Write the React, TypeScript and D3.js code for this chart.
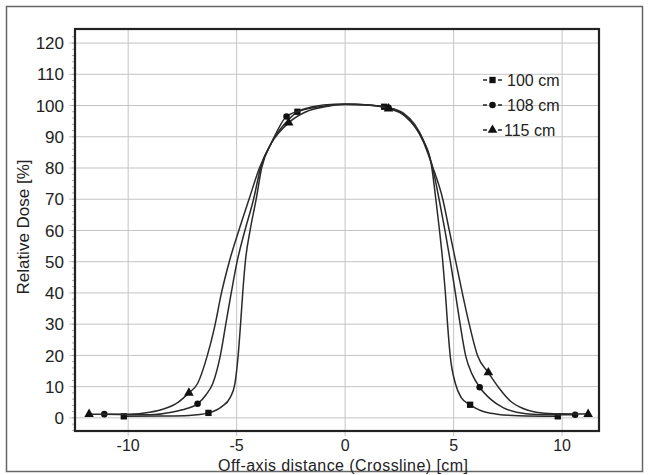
import React, { useEffect, useRef } from "react";
import * as d3 from "d3";

// axis ticks
const xTicks = [-10, -5, 0, 5, 10];
const yTicks = [0, 10, 20, 30, 40, 50, 60, 70, 80, 90, 100, 110, 120];

const legendLabels = ["100 cm", "108 cm", "115 cm"];

// profiles: [off-axis cm, relative dose %]
const dose100: [number, number][] = [
  [-10.2, 0.5], [-8.5, 0.6], [-7.2, 0.8], [-6.3, 1.6], [-5.7, 3.5], [-5.3, 6.5],
  [-5.08, 11], [-4.93, 20], [-4.82, 30], [-4.72, 40], [-4.6, 50], [-4.38, 60],
  [-4.1, 70], [-3.85, 80], [-3.4, 88], [-2.8, 94], [-2.2, 98], [-1.5, 99.6],
  [-0.5, 100.4], [0.5, 100.4], [1.8, 99.6], [2.5, 98], [3.0, 95], [3.5, 90],
  [3.95, 82], [4.18, 70], [4.35, 60], [4.5, 50], [4.62, 40], [4.72, 30],
  [4.84, 20], [5.08, 11], [5.35, 6.5], [5.76, 4.2], [6.3, 2.2], [7.0, 1.2],
  [8.0, 0.7], [9.8, 0.5],
];
const dose108: [number, number][] = [
  [-11.1, 1.2], [-9.0, 1.0], [-8.0, 1.8], [-7.3, 3], [-6.8, 4.5], [-6.4, 7.5],
  [-6.1, 11], [-5.75, 20], [-5.5, 30], [-5.25, 40], [-4.98, 50], [-4.62, 60],
  [-4.22, 70], [-3.9, 80], [-3.4, 88], [-2.7, 96.5], [-2.0, 98.5], [-1.2, 99.6],
  [0, 100.5], [1.0, 100.2], [2.0, 99.3], [2.7, 97.5], [3.2, 94], [3.6, 89],
  [4.0, 81], [4.33, 70], [4.6, 60], [4.85, 50], [5.08, 40], [5.3, 30],
  [5.55, 20], [5.85, 14], [6.2, 9.8], [6.7, 6], [7.3, 3.2], [7.9, 1.8],
  [8.8, 1.1], [10.6, 1.0],
];
const dose115: [number, number][] = [
  [-11.8, 1.2], [-10.0, 1.2], [-9.0, 1.8], [-8.3, 3], [-7.7, 5], [-7.2, 8],
  [-6.8, 11], [-6.35, 20], [-6.02, 29], [-5.7, 40], [-5.34, 50], [-4.9, 60],
  [-4.43, 70], [-3.95, 80], [-3.4, 88], [-2.6, 94.5], [-1.8, 98], [-1.0, 99.5],
  [0, 100.3], [1.0, 100.2], [2.0, 99.0], [2.7, 97], [3.2, 93.5], [3.6, 88.5],
  [4.0, 81], [4.5, 70], [4.8, 60], [5.1, 50], [5.4, 40], [5.72, 30],
  [6.1, 20], [6.6, 14.5], [7.1, 9.5], [7.6, 5.5], [8.2, 3], [8.8, 1.8],
  [9.6, 1.3], [11.2, 1.2],
];

// x positions of the plotted symbols on each profile
const markers100 = [-10.2, -6.3, -2.2, 1.8, 5.76, 9.8];
const markers108 = [-11.1, -6.8, -2.7, 2.0, 6.2, 10.6];
const markers115 = [-11.8, -7.2, -2.6, 2.0, 6.6, 11.2];

function App() {
  const ref = useRef<SVGSVGElement>(null);

  useEffect(() => {
    const width = 649;
    const height = 475;
    const frame = { left: 75, right: 599, top: 29, bottom: 431 };
    const font = "'Liberation Sans', Arial, sans-serif";

    const svg = d3.select(ref.current);
    svg.selectAll("*").remove();
    svg.attr("width", width).attr("height", height);

    // scales: frame spans a bit past the tick range on every side
    const xScale = d3
      .scaleLinear()
      .domain([-12.45, 11.7])
      .range([frame.left, frame.right]);
    const yScale = d3
      .scaleLinear()
      .domain([-4.2, 124.5])
      .range([frame.bottom, frame.top]);

    svg
      .append("rect")
      .attr("width", width)
      .attr("height", height)
      .attr("fill", "white");

    // outer border of the figure
    svg
      .append("rect")
      .attr("x", 6.5)
      .attr("y", 6.5)
      .attr("width", 636)
      .attr("height", 465)
      .attr("fill", "none")
      .attr("stroke", "#666")
      .attr("stroke-width", 1.5);

    // grid
    svg
      .selectAll(".hgrid")
      .data(yTicks)
      .join("line")
      .attr("class", "hgrid")
      .attr("x1", frame.left - 6)
      .attr("x2", frame.right)
      .attr("y1", (d) => yScale(d))
      .attr("y2", (d) => yScale(d))
      .attr("stroke", "#c4c4c4")
      .attr("stroke-width", 1);
    svg
      .selectAll(".vgrid")
      .data(xTicks)
      .join("line")
      .attr("class", "vgrid")
      .attr("x1", (d) => xScale(d))
      .attr("x2", (d) => xScale(d))
      .attr("y1", frame.top)
      .attr("y2", frame.bottom + 5)
      .attr("stroke", "#c4c4c4")
      .attr("stroke-width", 1);

    // small minor ticks on the left axis
    svg
      .selectAll(".minor")
      .data(d3.range(-4, 124, 2))
      .join("line")
      .attr("class", "minor")
      .attr("x1", frame.left - 3)
      .attr("x2", frame.left)
      .attr("y1", (d) => yScale(d))
      .attr("y2", (d) => yScale(d))
      .attr("stroke", "#aaa")
      .attr("stroke-width", 1);

    // tick labels
    svg
      .selectAll(".ylab")
      .data(yTicks)
      .join("text")
      .attr("class", "ylab")
      .attr("x", 64)
      .attr("y", (d) => yScale(d))
      .attr("dy", "0.36em")
      .attr("text-anchor", "end")
      .attr("font-family", font)
      .attr("font-size", 17)
      .attr("fill", "#222")
      .text((d) => d);
    svg
      .selectAll(".xlab")
      .data(xTicks)
      .join("text")
      .attr("class", "xlab")
      .attr("x", (d) => xScale(d))
      .attr("y", 451)
      .attr("text-anchor", "middle")
      .attr("font-family", font)
      .attr("font-size", 16)
      .attr("fill", "#222")
      .text((d) => d);

    // axis titles
    svg
      .append("text")
      .attr("x", 343)
      .attr("y", 470.5)
      .attr("text-anchor", "middle")
      .attr("font-family", font)
      .attr("font-size", 16)
      .attr("textLength", 250)
      .attr("fill", "#222")
      .text("Off-axis distance (Crossline) [cm]");
    svg
      .append("text")
      .attr("transform", "translate(29,227) rotate(-90)")
      .attr("text-anchor", "middle")
      .attr("font-family", font)
      .attr("font-size", 17)
      .attr("fill", "#222")
      .text("Relative Dose [%]");

    // profile lines
    const line = d3
      .line<[number, number]>()
      .x((d) => xScale(d[0]))
      .y((d) => yScale(d[1]))
      .curve(d3.curveMonotoneX);

    const series = [
      { data: dose100, marks: markers100, shape: "square" },
      { data: dose108, marks: markers108, shape: "circle" },
      { data: dose115, marks: markers115, shape: "triangle" },
    ];

    const symbolFor = (shape: string) =>
      shape === "square"
        ? d3.symbol().type(d3.symbolSquare).size(40)
        : shape === "circle"
        ? d3.symbol().type(d3.symbolCircle).size(34)
        : d3.symbol().type(d3.symbolTriangle).size(40);

    series.forEach((s) => {
      svg
        .append("path")
        .datum(s.data)
        .attr("d", line)
        .attr("fill", "none")
        .attr("stroke", "#2a2a2a")
        .attr("stroke-width", 1.5);

      const pts = s.data.filter((p) => s.marks.includes(p[0]));
      svg
        .append("g")
        .selectAll("path")
        .data(pts)
        .join("path")
        .attr("transform", (d) => `translate(${xScale(d[0])},${yScale(d[1])})`)
        .attr("d", symbolFor(s.shape)())
        .attr("fill", "#111");
    });

    // frame on top
    svg
      .append("rect")
      .attr("x", frame.left)
      .attr("y", frame.top)
      .attr("width", frame.right - frame.left)
      .attr("height", frame.bottom - frame.top)
      .attr("fill", "none")
      .attr("stroke", "#222")
      .attr("stroke-width", 2.2);

    // legend
    const legend = svg
      .append("g")
      .selectAll("g")
      .data(series)
      .join("g")
      .attr("transform", (d, i) => `translate(483,${80 + i * 25})`);
    legend
      .append("line")
      .attr("x1", 0)
      .attr("x2", 4)
      .attr("stroke", "#222")
      .attr("stroke-width", 1.5);
    legend
      .append("line")
      .attr("x1", 15)
      .attr("x2", 19)
      .attr("stroke", "#222")
      .attr("stroke-width", 1.5);
    legend
      .append("path")
      .attr("transform", "translate(9.5,0)")
      .attr("d", (d) => symbolFor(d.shape)())
      .attr("fill", "#111");
    legend
      .append("text")
      .attr("x", (d, i) => (i === 2 ? 21 : 24))
      .attr("dy", "0.36em")
      .attr("font-family", font)
      .attr("font-size", 16)
      .attr("fill", "#222")
      .text((d, i) => legendLabels[i]);
  }, []);

  return (
    <svg ref={ref} style={{ position: "absolute", left: 0, top: 0 }}></svg>
  );
}

export default App;
